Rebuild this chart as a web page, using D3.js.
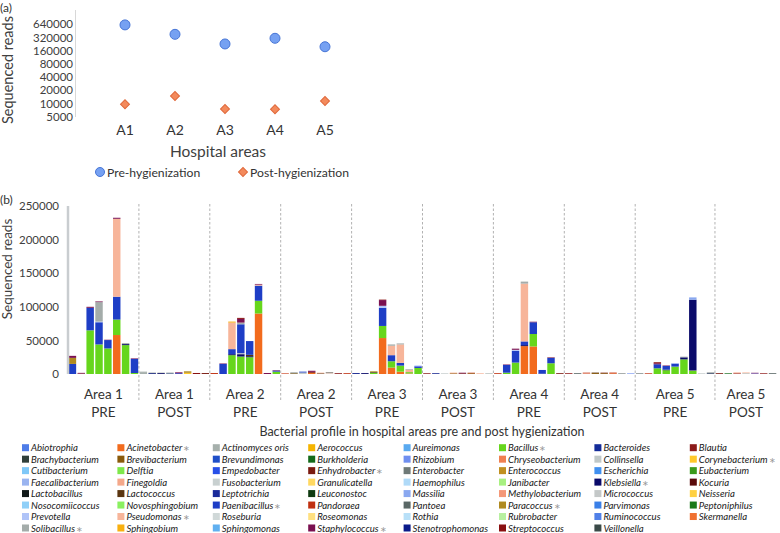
<!DOCTYPE html>
<html><head><meta charset="utf-8">
<script src="https://cdn.jsdelivr.net/npm/d3@7"></script>
<style>body{margin:0;background:#fff}svg{font-family:Lato,"Open Sans",sans-serif}</style>
</head><body><svg id="c" width="780" height="533"></svg>
<script>
// ---------- DATA: panel (a) ----------
const areaCodes = ["A1","A2","A3","A4","A5"];
const preReads  = [620000, 378000, 228000, 307000, 197000];
const postReads = [9600, 14800, 7500, 7400, 11400];
const logTicks  = [5000,10000,20000,40000,80000,160000,320000,640000];

// ---------- DATA: panel (b) ----------
const taxa = ["Abiotrophia","Acinetobacter","Actinomyces oris","Aerococcus","Aureimonas","Bacillus","Bacteroides","Blautia",
"Brachybacterium","Brevibacterium","Brevundimonas","Burkholderia","Rhizobium","Chryseobacterium","Collinsella","Corynebacterium",
"Cutibacterium","Delftia","Empedobacter","Enhydrobacter","Enterobacter","Enterococcus","Escherichia","Eubacterium",
"Faecalibacterium","Finegoldia","Fusobacterium","Granulicatella","Haemophilus","Janibacter","Klebsiella","Kocuria",
"Lactobacillus","Lactococcus","Leptotrichia","Leuconostoc","Massilia","Methylobacterium","Micrococcus","Neisseria",
"Nosocomiicoccus","Novosphingobium","Paenibacillus","Pandoraea","Pantoea","Paracoccus","Parvimonas","Peptoniphilus",
"Prevotella","Pseudomonas","Roseburia","Roseomonas","Rothia","Rubrobacter","Ruminococcus","Skermanella",
"Solibacillus","Sphingobium","Sphingomonas","Staphylococcus","Stenotrophomonas","Streptococcus","Veillonella"];
const starredTaxa = ["Acinetobacter","Bacillus","Corynebacterium","Enhydrobacter","Klebsiella","Paenibacillus","Paracoccus","Pseudomonas","Solibacillus","Staphylococcus"];
const yTicksB = [0,50000,100000,150000,200000,250000];

const area1Pre = [
 {Paenibacillus:15000, Paracoccus:9000, Staphylococcus:3000},
 {Enhydrobacter:700, Staphylococcus:1000},
 {Bacillus:65000, Paenibacillus:33500, Staphylococcus:1500},
 {Bacillus:44000, Paenibacillus:33000, Prevotella:1000, Solibacillus:29000, Staphylococcus:1000},
 {Bacillus:38000, Paenibacillus:12500, Staphylococcus:500},
 {Acinetobacter:58000, Bacillus:23000, Paenibacillus:34000, Pseudomonas:116000, Staphylococcus:1500},
 {Bacillus:43000, Klebsiella:1500, Solibacillus:1500},
 {Bacillus:1500, Paenibacillus:21000, Staphylococcus:800}
];
const area1Post = [
 {"Actinomyces oris":2800, Solibacillus:700},
 {Stenotrophomonas:1200, Veillonella:600},
 {Klebsiella:1300, Pantoea:500},
 {Rhizobium:800, Veillonella:1000},
 {Paenibacillus:1200, Staphylococcus:1300},
 {Corynebacterium:1800, Paracoccus:2200},
 {Streptococcus:1500},
 {Enhydrobacter:1400}
];
const area2Pre = [
 {Pandoraea:1400},
 {Paenibacillus:15000, Staphylococcus:700},
 {Bacillus:28000, Klebsiella:1500, Paenibacillus:7500, Pseudomonas:39500, Sphingobium:1500},
 {Bacillus:26000, Klebsiella:3500, Micrococcus:1500, Paenibacillus:43000, Solibacillus:2500, Staphylococcus:5500, Streptococcus:1500},
 {Bacillus:25000, Klebsiella:1500, Lactococcus:2000, Paenibacillus:20500},
 {Acinetobacter:90000, Bacillus:19000, Paenibacillus:22500, Pseudomonas:1500, Staphylococcus:1000},
 {Staphylococcus:1500},
 {Bacillus:3500, Paenibacillus:1500, Staphylococcus:700}
];
const area2Post = [
 {Finegoldia:700, Pandoraea:700},
 {Brevibacterium:1000, Enterobacter:1200},
 {Collinsella:2200, Paenibacillus:1300},
 {Acinetobacter:1800, Enhydrobacter:1400, Staphylococcus:1600},
 {Lactococcus:1000, Pseudomonas:1000},
 {Collinsella:1000, Pseudomonas:1000, Veillonella:700},
 {Blautia:1200},
 {Pandoraea:1200}
];
const area3Pre = [
 {Stenotrophomonas:1300},
 {Klebsiella:1300},
 {Bacillus:1500, Lactobacillus:1000, Paracoccus:1500},
 {Acinetobacter:53500, Bacillus:18000, Paenibacillus:27000, Prevotella:3000, Staphylococcus:8500, Streptococcus:700},
 {Acinetobacter:9500, Bacillus:9500, Paenibacillus:9000, Pseudomonas:14000, Solibacillus:2000},
 {Acinetobacter:3500, Bacillus:9000, Paenibacillus:4000, Pseudomonas:27500, Solibacillus:1500},
 {Acinetobacter:800, Bacillus:2000, Pseudomonas:3500, Solibacillus:1000},
 {Bacillus:9000, Paenibacillus:2500, Prevotella:1200}
];
const area3Post = [
 {Blautia:1100},
 {Stenotrophomonas:1100},
 {Collinsella:1000},
 {Brevibacterium:1000, Finegoldia:1000},
 {Enhydrobacter:1000, Staphylococcus:900},
 {Brevibacterium:1100, Pandoraea:800},
 {Finegoldia:900},
 {"Actinomyces oris":900}
];
const area4Pre = [
 {Pandoraea:1200},
 {Bacillus:2000, Paenibacillus:11500, Staphylococcus:700},
 {Bacillus:17000, Paenibacillus:17500, Prevotella:1500, Staphylococcus:1700},
 {Acinetobacter:41500, Klebsiella:1500, Paenibacillus:5500, Pseudomonas:86000, Solibacillus:3000},
 {Acinetobacter:41000, Bacillus:18500, Paenibacillus:17500, Staphylococcus:800},
 {Klebsiella:500, Paenibacillus:5500},
 {Bacillus:16000, Paenibacillus:8000, Staphylococcus:500, Streptococcus:400},
 {Enhydrobacter:1200}
];
const area4Post = [
 {Streptococcus:1100},
 {Veillonella:1000},
 {Finegoldia:1000, Pandoraea:1000},
 {Brevibacterium:1400, Lactococcus:700},
 {Brevibacterium:1200, Enhydrobacter:800},
 {Acinetobacter:900, Pandoraea:1200},
 {Enterobacter:900},
 {Rhizobium:900}
];
const area5Pre = [
 {Enterobacter:1000},
 {Pandoraea:1000},
 {Bacillus:8500, Paenibacillus:6000, Staphylococcus:1500, Streptococcus:1500},
 {Bacillus:5500, Leuconostoc:1000, Paenibacillus:5500, Staphylococcus:700},
 {Bacillus:11000, Paenibacillus:4500, Prevotella:800},
 {Bacillus:21800, Klebsiella:3000, Solibacillus:1000},
 {Bacillus:4500, Enterobacter:1000, Klebsiella:105000, Massilia:3500},
 {Collinsella:1000},
 {Stenotrophomonas:700, Veillonella:1300}
];
const area5Post = [
 {Enhydrobacter:1200},
 {Burkholderia:1000},
 {Blautia:1000, Finegoldia:1300},
 {Collinsella:1300, Pseudomonas:1000},
 {Rhizobium:900, Staphylococcus:900},
 {Streptococcus:1000},
 {Veillonella:1000}
];
const sectionNames = [["Area 1","PRE"],["Area 1","POST"],["Area 2","PRE"],["Area 2","POST"],["Area 3","PRE"],
                      ["Area 3","POST"],["Area 4","PRE"],["Area 4","POST"],["Area 5","PRE"],["Area 5","POST"]];
const sectionBars = [area1Pre,area1Post,area2Pre,area2Post,area3Pre,area3Post,area4Pre,area4Post,area5Pre,area5Post];

// ---------- STYLES ----------
const taxaColors = ["#4f7de8","#f26b1d","#a6b0ac","#f5b400","#5aaaf0","#66d61c","#142c99","#8b1a1a",
"#2f3f3a","#8a5a0a","#1f4fc8","#136a1a","#6f8ff0","#f08050","#c0c8c8","#ffc82a",
"#7fc8f8","#7ee84a","#2850e8","#7a1a10","#6f7a78","#c09020","#4090f0","#3a9a1a",
"#9ab4f0","#f4a88a","#c8d0d0","#ffd860","#b0daf8","#a8f080","#0a0a6a","#5a0a0a",
"#101818","#5a3510","#1a2a9a","#0f3a10","#8aa8f0","#f49878","#c4c8c8","#ffd040",
"#90d0f8","#8af060","#1e3ec6","#c03010","#5a6866","#b08a20","#3a80e8","#1a7a1a",
"#b0c4f8","#f7b59a","#d0d8d8","#ffe080","#b8e0f8","#b8f0a0","#5080e8","#f07030",
"#a4acaa","#f8b010","#60b0f0","#7a1050","#0a1a8a","#8a1010","#3a4a48"];
const color = d3.scaleOrdinal().domain(taxa).range(taxaColors);
const textCol = "#333";

const svg = d3.select("#c");

// ================= PANEL (a) =================
svg.append("text").attr("x",0).attr("y",12).attr("font-size",12).attr("fill",textCol).text("(a)");
const ya = d3.scaleLog().domain([5000,640000]).range([116.7,24.3]);
const xa = d3.scalePoint().domain(areaCodes).range([125,325]);
svg.append("line").attr("x1",75.5).attr("x2",75.5).attr("y1",10).attr("y2",117).attr("stroke","#d8d8d8").attr("stroke-width",1);
const gya = svg.append("g").attr("transform","translate(74,0)")
  .call(d3.axisLeft(ya).tickValues(logTicks).tickFormat(d3.format("d")).tickSize(0).tickPadding(1));
gya.select(".domain").remove();
gya.selectAll("text").attr("font-size",11.5).attr("fill","#404040").attr("font-family","Lato");
svg.append("text").attr("transform","translate(12.5,70) rotate(-90)").attr("text-anchor","middle")
  .attr("font-size",14.5).attr("fill","#404040").text("Sequenced reads");
svg.selectAll(".xa").data(areaCodes).join("text").attr("x",d=>xa(d)).attr("y",135)
  .attr("text-anchor","middle").attr("font-size",14).attr("fill",textCol).text(d=>d);
svg.append("text").attr("x",218).attr("y",157).attr("text-anchor","middle").attr("font-size",15.5).attr("fill","#404040").text("Hospital areas");

const circFill="#76a1f2", circStroke="#4775d6", diaFill="#f38a5c", diaStroke="#e0683a";
const diamond = d3.symbol().type(d3.symbolSquare).size(40);
svg.append("g").selectAll("circle").data(areaCodes).join("circle")
  .attr("cx",d=>xa(d)).attr("cy",(d,i)=>ya(preReads[i])).attr("r",5)
  .attr("fill",circFill).attr("stroke",circStroke).attr("stroke-width",1);
svg.append("g").selectAll("path").data(areaCodes).join("path")
  .attr("d",diamond).attr("transform",(d,i)=>`translate(${xa(d)},${ya(postReads[i])}) rotate(45)`)
  .attr("fill",diaFill).attr("stroke",diaStroke).attr("stroke-width",1);
// legend (a)
svg.append("circle").attr("cx",100).attr("cy",172).attr("r",4.5).attr("fill",circFill).attr("stroke",circStroke);
svg.append("text").attr("x",107).attr("y",176.5).attr("font-size",12.2).attr("fill",textCol).text("Pre-hygienization");
svg.append("path").attr("d",diamond).attr("transform","translate(243,172) rotate(45)").attr("fill",diaFill).attr("stroke",diaStroke);
svg.append("text").attr("x",250).attr("y",176.5).attr("font-size",12.2).attr("fill",textCol).text("Post-hygienization");

// ================= PANEL (b) =================
svg.append("text").attr("x",0).attr("y",204).attr("font-size",12).attr("fill",textCol).text("(b)");
const allBars = sectionBars.flat();
const rows = allBars.map((b,i)=>{const r={idx:String(i)}; taxa.forEach(t=>r[t]=b[t]||0); return r;});
const xb = d3.scaleBand().domain(rows.map(r=>r.idx)).range([68,777]).paddingInner(0.16).paddingOuter(0.08);
const yb = d3.scaleLinear().domain([0,250000]).range([374,206]);
const stacked = d3.stack().keys(taxa)(rows);

// section dividers & labels
const half = (xb.step()-xb.bandwidth())/2;
let cum=0; const bounds=[68];
sectionBars.forEach((s,i)=>{cum+=s.length; if(i<sectionBars.length-1) bounds.push(xb(String(cum))-half);});
bounds.push(777);
svg.append("g").selectAll("line").data(bounds.slice(1,-1)).join("line")
  .attr("x1",d=>d).attr("x2",d=>d).attr("y1",204).attr("y2",400)
  .attr("stroke","#a9a9a9").attr("stroke-width",0.9).attr("stroke-dasharray","2.5,2");
const secLab = svg.append("g").selectAll("text").data(sectionNames).join("text")
  .attr("text-anchor","middle").attr("font-size",13.5).attr("fill",textCol);
secLab.append("tspan").attr("x",(d,i)=>(bounds[i]+bounds[i+1])/2).attr("y",399).text(d=>d[0]);
secLab.append("tspan").attr("x",(d,i)=>(bounds[i]+bounds[i+1])/2).attr("y",417).text(d=>d[1]);

svg.append("g").selectAll("g").data(stacked).join("g").attr("fill",d=>color(d.key))
  .selectAll("rect").data(d=>d.filter(p=>p[1]-p[0]>0)).join("rect")
  .attr("x",d=>xb(d.data.idx)).attr("width",xb.bandwidth())
  .attr("y",d=>yb(d[1])).attr("height",d=>yb(d[0])-yb(d[1]));

svg.append("line").attr("x1",68).attr("x2",68).attr("y1",206).attr("y2",374).attr("stroke","#c9cdd0").attr("stroke-width",2.5);
const gyb = svg.append("g").attr("transform","translate(66,0)")
  .call(d3.axisLeft(yb).tickValues(yTicksB).tickFormat(d3.format("d")).tickSize(0).tickPadding(7));
gyb.select(".domain").remove();
gyb.selectAll("text").attr("font-size",11.5).attr("fill","#404040").attr("font-family","Lato");
svg.append("text").attr("transform","translate(12,269) rotate(-90)").attr("text-anchor","middle")
  .attr("font-size",13.5).attr("fill","#404040").text("Sequenced reads");
svg.append("text").attr("x",422).attr("y",435.5).attr("text-anchor","middle").attr("font-size",12.5).attr("fill",textCol)
  .text("Bacterial profile in hospital areas pre and post hygienization");

// legend (b)
const leg = svg.append("g").selectAll("g").data(taxa).join("g")
  .attr("transform",(d,i)=>`translate(${22+95.4*(i%8)},${447.7+11.47*Math.floor(i/8)})`);
leg.append("rect").attr("x",0).attr("y",-3.5).attr("width",7).attr("height",7).attr("fill",d=>color(d));
const lt = leg.append("text").attr("x",9).attr("y",3.6).attr("font-size",9.6).attr("fill","#1a1a1a");
lt.append("tspan").attr("font-style","italic").text(d=>d);
lt.filter(d=>starredTaxa.includes(d)).append("tspan").attr("dx",1).attr("fill","#999").attr("font-size",7.5).text("∗");
</script></body></html>
